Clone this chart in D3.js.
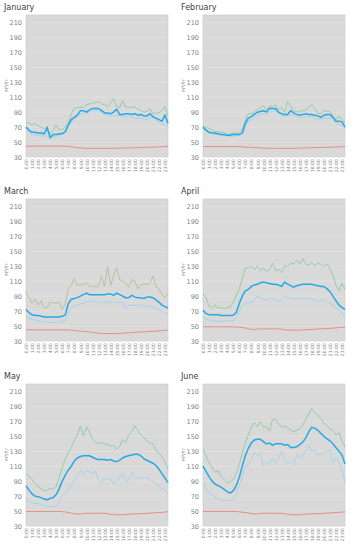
<!DOCTYPE html>
<html>
<head>
<meta charset="utf-8">
<script src="https://cdn.jsdelivr.net/npm/d3@7"></script>
<style>
  body { margin: 0; background: #fff; }
  svg { font-family: "DejaVu Sans", sans-serif; }
</style>
</head>
<body>
<script>
// months shown, one panel each
var months = ["January", "February", "March", "April", "May", "June"];

var hourLabels = ["0:00","1:00","2:00","3:00","4:00","5:00","6:00","7:00","8:00","9:00","10:00","11:00",
  "12:00","13:00","14:00","15:00","16:00","17:00","18:00","19:00","20:00","21:00","22:00","23:00"];
var yTicks = [30, 50, 70, 90, 110, 130, 150, 170, 190, 210];

// half-hourly readings, 0:00 .. 23:30 (m3/hr)
var janMean = [70,66,63,63,62,62,61,69,56,60,60,61,61,64,73,80,83,86,92,92,90,93,95,95,95,92,89,89,88,90,94,87,87,88,88,87,88,86,87,85,85,88,84,82,80,78,86,75];
var janHigh = [75,76,73,75,72,70,68,70,60,66,73,66,67,70,76,88,95,96,97,96,100,101,102,103,104,101,100,97,102,108,98,96,106,97,96,97,97,94,92,90,91,95,88,89,89,92,98,85];
var janLow  = [67,63,60,60,59,59,58,58,56,57,58,59,60,63,70,76,80,84,88,88,89,90,92,92,92,89,87,86,85,85,86,85,84,84,85,84,82,82,82,81,80,82,83,79,76,74,73,70];
var janMin  = [44.5,44.5,44.5,44.5,44.5,44.5,44.5,44.5,44.5,44.5,44.5,44.5,44.5,44.5,44,43.5,43,42.5,42,41.8,41.5,41.5,41.5,41.5,41.5,41.5,41.5,41.5,41.5,41.6,41.7,41.8,42,42.1,42.2,42.3,42.4,42.5,42.6,42.8,43,43.1,43.2,43.3,43.5,43.7,44,44.3];

var febMean = [70,66,63,62,62,61,60,60,59,59,60,60,60,62,75,82,84,87,90,91,92,90,95,95,95,90,88,87,87,92,89,87,86,87,88,87,87,86,85,83,86,87,87,83,78,78,77,70];
var febHigh = [71,70,68,66,64,64,63,63,60,61,62,62,62,66,80,88,88,90,93,96,99,93,98,98,100,93,96,90,104,98,92,91,90,92,93,97,100,95,88,88,92,91,91,85,80,85,80,76];
var febLow  = [68,65,62,61,60,60,59,59,58,58,58,58,59,61,70,78,80,83,86,87,88,87,90,91,92,88,86,85,85,86,86,84,83,83,84,84,84,82,80,81,82,82,82,79,76,74,72,69];
var febMin  = [44,44,44,44,44,44,44,44,44,44,44,44,44,43.5,43,43,42.8,42.6,42.5,42.3,42,41.8,41.5,41.5,41.5,41.5,41.5,41.5,41.5,41.5,41.5,41.7,41.9,42,42.2,42.3,42.5,42.6,42.7,42.8,42.9,43,43,43.2,43.4,43.6,43.8,44];

var marMean = [72,68,65,64,64,63,62,62,62,62,62,62,63,65,80,86,87,88,90,92,94,92,92,92,92,92,92,93,93,91,94,92,90,88,88,91,89,88,88,87,89,89,88,85,82,78,76,74];
var marHigh = [96,88,80,86,78,84,74,75,82,81,80,82,72,80,100,104,114,104,106,105,108,102,104,102,104,117,103,130,104,117,128,112,110,108,102,112,110,100,105,106,106,107,117,103,100,92,88,95];
var marLow  = [63,60,59,58,57,56,56,56,55,55,55,55,56,58,70,74,77,79,80,81,82,83,84,83,82,81,82,82,82,82,81,82,82,72,78,78,78,78,78,77,76,76,75,74,72,69,67,65];
var marMin  = [45,45,45,45,45,45,45,45,45,45,45,45,45,45,44.8,44.5,44,43.5,43,42.8,42.5,42,41.5,41,40.5,40,40,40,40,40,40,40.2,40.5,40.8,41,41.3,41.5,41.8,42,42.2,42.5,42.8,43,43.3,43.6,44,44.3,44.6];

var aprMean = [71,67,65,65,65,65,64,64,64,64,64.5,68,80,90,97,99,103,105,106,108,109,108,107,106,106,105,103,109,106,104,102,104,105,106,106,106,106,105,104,103,103,100,96,90,84,78,75,72];
var aprHigh = [93,88,77,74,78,74,75,73,75,75,82,90,100,113,128,128,130,126,130,124,128,123,125,134,124,126,122,131,130,134,133,138,133,140,133,131,135,130,134,132,130,133,127,118,105,97,107,99];
var aprLow  = [62,59,58,57,57,56,56,57,57,57,57,62,70,78,80,81,82,85,90,88,86,84,88,86,85,84,86,90,88,87,87,86,88,87,87,88,86,85,83,84,85,83,80,78,74,70,67,64];
var aprMin  = [49,49,49,49,49,49,49,49,49,49,49,48.8,48.5,48,47.5,46.5,45.5,45.5,46,46.2,46.2,46.2,46.2,46.2,46.2,46.2,45.8,45,44.5,44.5,44.5,44.5,44.5,44.8,45,45.3,45.5,45.8,46,46.2,46.4,46.6,47,47.3,47.6,48,48.3,48.6];

var mayMean = [84,78,73,70,69,68,66,65,67,68,72,80,90,98,105,110,117,121,123,124,124,124,122,120,119,119,119,118,119,117,116,118,121,123,124,125,126,126,124,120,118,116,114,111,106,100,94,88];
var mayHigh = [100,97,92,86,83,80,77,78,80,79,83,95,108,120,128,135,145,152,164,150,163,156,146,142,140,142,139,140,137,138,133,136,146,142,152,156,164,158,152,148,144,141,140,132,127,122,116,106];
var mayLow  = [68,63,61,60,60,59,57,56,56,56,56,62,70,74,80,88,90,96,104,100,104,102,100,103,92,88,94,92,93,86,90,96,100,90,92,102,95,94,96,94,95,92,90,86,84,80,78,74];
var mayMin  = [49.5,49.5,49.5,49.5,49.5,49.5,49.5,49.5,49.5,49.5,49.5,49.5,49.2,48.8,48,47.2,46.5,46,46,46.5,47,47,47,47,47,47,47,46.5,45.5,45.2,45,45,45,45.3,45.8,46,46.2,46.4,46.5,46.7,47,47.2,47.5,47.8,48,48.3,48.7,49];

var junMean = [110,103,96,90,86,84,82,79,76,74,77,84,95,110,124,134,141,145,146,146,143,140,141,138,140,140,140,138,139,135,135,136,139,142,148,156,162,161,158,154,150,147,144,140,135,130,125,113];
var junHigh = [133,124,115,108,102,104,96,92,88,89,92,100,112,128,142,152,162,168,163,170,162,163,157,172,173,166,162,164,161,158,156,158,160,165,172,180,187,182,178,174,168,164,160,158,152,155,144,136];
var junLow  = [88,80,74,72,68,66,65,64,64,64,66,72,84,96,110,112,120,128,124,128,110,115,114,120,114,120,130,120,114,115,112,125,120,125,130,138,130,132,125,126,128,130,132,115,122,115,105,88];
var junMin  = [49.5,49.5,49.5,49.5,49.5,49.5,49.5,49.5,49.5,49.5,49.5,49.3,49,48.5,48,47.5,46.5,46,46.3,46.8,47,47,47,47,47,47,47,46.5,45.5,45.2,45,45,45,45.3,45.8,46,46.2,46.4,46.5,46.7,47,47.2,47.5,47.8,48,48.3,48.7,49];

var meanSeries = [janMean, febMean, marMean, aprMean, mayMean, junMean];
var highSeries = [janHigh, febHigh, marHigh, aprHigh, mayHigh, junHigh];
var lowSeries  = [janLow, febLow, marLow, aprLow, mayLow, junLow];
var minSeries  = [janMin, febMin, marMin, aprMin, mayMin, junMin];

var W = 355, H = 550;
var colX = [26, 203], rowY = [15, 199, 384];
var pw = 142, ph = 142;

var svg = d3.select("body").append("svg")
  .attr("width", W)
  .attr("height", H);

var x = d3.scaleLinear().domain([0, 23.5]).range([0, pw]);
var y = d3.scaleLinear().domain([30, 220]).range([ph, 0]);

var line = d3.line()
  .x(function(d, i) { return x(i / 2); })
  .y(function(d) { return y(d); });

months.forEach(function(m, k) {
  var g = svg.append("g")
    .attr("transform", "translate(" + colX[k % 2] + "," + rowY[Math.floor(k / 2)] + ")");

  // plot background
  g.append("rect")
    .attr("width", pw).attr("height", ph)
    .attr("fill", "#d9d9d9")
    .attr("stroke", "#c8c8c8")
    .attr("stroke-width", 0.6);

  // gridlines
  g.selectAll(".grid").data(yTicks).enter().append("line")
    .attr("x1", 0).attr("x2", pw)
    .attr("y1", function(d) { return y(d); })
    .attr("y2", function(d) { return y(d); })
    .attr("stroke", "#e6e6e6")
    .attr("stroke-width", 0.5);

  // y axis
  var ya = g.append("g")
    .call(d3.axisLeft(y).tickValues(yTicks).tickSize(0).tickPadding(4));
  ya.select(".domain").remove();
  ya.selectAll("text").attr("font-size", 6.5).attr("fill", "#808080")
    .attr("font-family", "DejaVu Sans, sans-serif");

  // x axis
  var xa = g.append("g")
    .attr("transform", "translate(0," + ph + ")")
    .call(d3.axisBottom(x).tickValues(d3.range(24)).tickFormat(function(i) { return hourLabels[i]; }).tickSize(0));
  xa.select(".domain").remove();
  xa.selectAll("text")
    .attr("font-size", 4.6).attr("fill", "#808080")
    .attr("font-family", "DejaVu Sans, sans-serif")
    .attr("transform", "rotate(-90)")
    .attr("text-anchor", "end")
    .attr("x", -2).attr("y", 0).attr("dy", "0.35em");

  // title
  g.append("text")
    .attr("x", -22).attr("y", -5)
    .attr("font-size", 8).attr("fill", "#404040")
    .text(m);

  // unit label
  g.append("text")
    .attr("transform", "translate(-18," + y(125) + ") rotate(-90)")
    .attr("text-anchor", "middle")
    .attr("font-size", 4.8).attr("fill", "#606060")
    .text("m³/hr");

  var highColor = m == "March" ? "#b7bc98" : "#8fcaa0";

  g.append("path").datum(minSeries[k])
    .attr("d", line).attr("fill", "none")
    .attr("stroke", "#e8837e").attr("stroke-width", 0.9);
  g.append("path").datum(highSeries[k])
    .attr("d", line).attr("fill", "none")
    .attr("stroke", highColor).attr("stroke-width", 0.9);
  g.append("path").datum(lowSeries[k])
    .attr("d", line).attr("fill", "none")
    .attr("stroke", "#9fd3ec").attr("stroke-width", 0.9);
  g.append("path").datum(meanSeries[k])
    .attr("d", line).attr("fill", "none")
    .attr("stroke", "#27a9e6").attr("stroke-width", 1.5);
});
</script>
</body>
</html>
